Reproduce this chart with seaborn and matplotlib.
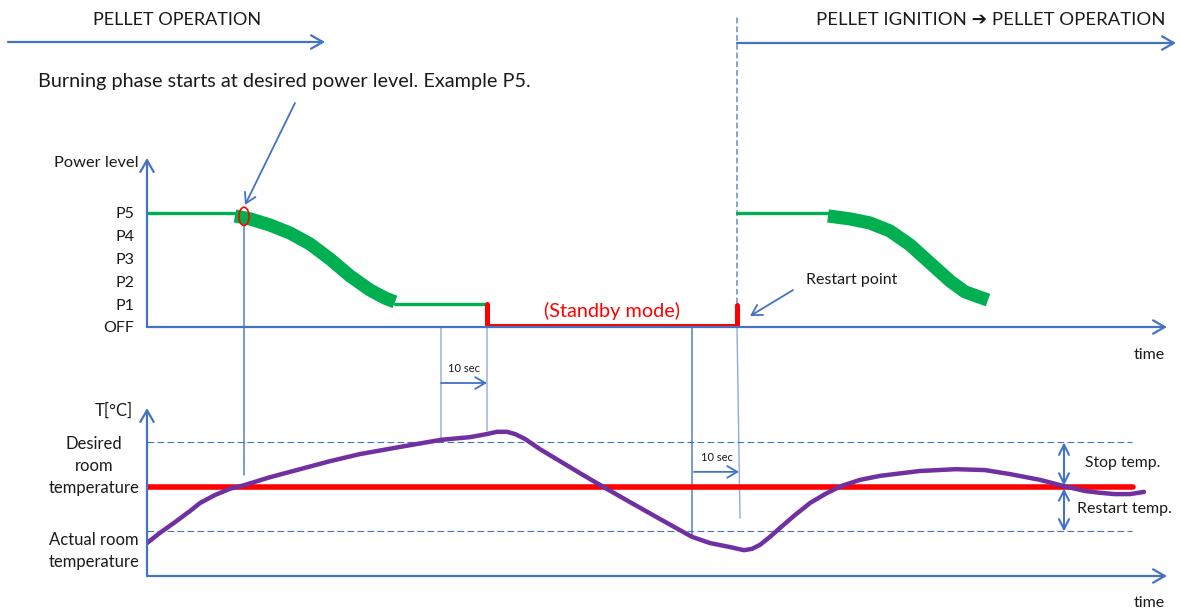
import matplotlib
matplotlib.use("Agg")
import matplotlib.pyplot as plt
from matplotlib.patches import Ellipse
import seaborn as sns

# power levels on the upper axis
level_names = ["OFF", "P1", "P2", "P3", "P4", "P5"]

# first burning cycle (time in arbitrary units, power as level 0..5)
idle1_t = [0.0, 8.8]
idle1_p = [5.0, 5.0]
burn1_t = [8.8, 10.3, 12.3, 14.3, 16.3, 18.3, 20.3, 22.3, 23.8, 24.8]
burn1_p = [4.87, 4.74, 4.47, 4.12, 3.64, 2.98, 2.24, 1.62, 1.27, 1.10]
low1_t = [24.8, 34.0]
low1_p = [1.0, 1.0]

# standby (boiler off)
standby_t = [34.0, 34.0, 59.0, 59.0]
standby_p = [1.0, 0.05, 0.05, 0.96]

# second cycle after restart
idle2_t = [59.0, 68.1]
idle2_p = [5.0, 5.0]
burn2_t = [68.1, 70.3, 72.3, 74.3, 76.3, 78.3, 80.3, 81.8, 84.1]
burn2_p = [4.87, 4.74, 4.56, 4.21, 3.60, 2.81, 2.02, 1.54, 1.18]

# room temperature
temp_t = [0.0, 1.3, 2.8, 4.3, 5.3, 6.8, 8.3, 9.7, 12.3, 15.3, 18.3, 21.3, 25.3,
          29.4, 32.3, 34.0, 35.0, 36.0, 36.8, 37.8, 39.3, 41.3, 43.3, 45.5,
          48.3, 51.3, 54.5, 56.3, 58.3, 59.7, 60.5, 61.3, 62.3, 63.3, 64.8,
          66.3, 67.8, 69.4, 71.3, 73.3, 77.3, 80.9, 83.8, 86.3, 89.3, 91.7,
          93.8, 95.3, 96.8, 98.3, 99.7]
temp_c = [18.74, 18.97, 19.21, 19.46, 19.64, 19.82, 19.96, 20.04, 20.22, 20.40,
          20.58, 20.74, 20.90, 21.06, 21.12, 21.19, 21.24, 21.24, 21.19, 21.08,
          20.85, 20.58, 20.31, 20.02, 19.66, 19.28, 18.88, 18.74, 18.65, 18.58,
          18.61, 18.70, 18.88, 19.08, 19.37, 19.64, 19.84, 20.02, 20.16, 20.25,
          20.36, 20.40, 20.38, 20.29, 20.16, 20.02, 19.91, 19.87, 19.84, 19.84,
          19.89]
desired_temp = 20.0
stop_temp = 21.0
restart_temp = 19.0

# events
ignition_t = 9.7
stop_t = 29.4
off_t = 34.0
restart_t = 54.5
restart_fire_t = 59.0

sns.set_theme(style="white")
plt.rcParams["font.family"] = ["Lato", "DejaVu Sans"]

BLUE = "#4472C4"
LIGHT = "#8FAADC"
GREEN = "#00B050"
RED = "#FF0000"
PURPLE = "#7030A0"
TXT = "#1a1a1a"

fig = plt.figure(figsize=(11.81, 6.10), dpi=100)
ov = fig.add_axes([0, 0, 1, 1])
ov.set_xlim(0, 1181)
ov.set_ylim(610, 0)
ov.axis("off")

ax_p = fig.add_axes([147 / 1181, 1 - 327 / 610, 1020 / 1181, 169 / 610])
ax_t = fig.add_axes([147 / 1181, 1 - 576 / 610, 1020 / 1181, 168 / 610])

axis_arrow = dict(arrowstyle="->,head_length=0.7,head_width=0.4", color=BLUE,
                  lw=1.6, shrinkA=0, shrinkB=0, mutation_scale=12)
thin_arrow = dict(arrowstyle="->,head_length=0.6,head_width=0.35", color=BLUE,
                  lw=1.3, shrinkA=0, shrinkB=0, mutation_scale=12)
link = dict(arrowstyle="-", color=LIGHT, lw=1.0, shrinkA=0, shrinkB=0)

for ax in (ax_p, ax_t):
    ax.set_facecolor("none")
    sns.despine(ax=ax, left=True, bottom=True, right=True, top=True)
    ax.set_xlim(0, 102)
    ax.set_xticks([])
    ax.tick_params(length=0)
    ax.annotate("", xy=(1, 0), xytext=(0, 0), xycoords="axes fraction",
                arrowprops=axis_arrow)
    ax.annotate("", xy=(0, 1), xytext=(0, 0), xycoords="axes fraction",
                arrowprops=axis_arrow)

# ---- power panel
ax_p.set_ylim(0, 7.41)
ax_p.set_yticks(range(6))
ax_p.set_yticklabels(level_names, fontsize=11.5, color=TXT)
ax_p.tick_params(axis="y", pad=9)

for xs, ys in [(idle1_t, idle1_p), (low1_t, low1_p), (idle2_t, idle2_p)]:
    sns.lineplot(x=xs, y=ys, ax=ax_p, color=GREEN, lw=2.4, sort=False, estimator=None)
for xs, ys in [(burn1_t, burn1_p), (burn2_t, burn2_p)]:
    sns.lineplot(x=xs, y=ys, ax=ax_p, color=GREEN, lw=9.5, sort=False, estimator=None,
                 solid_capstyle="butt")
sns.lineplot(x=standby_t, y=standby_p, ax=ax_p, color=RED, lw=3.6, sort=False,
             estimator=None, solid_joinstyle="miter")
ax_p.add_patch(Ellipse((ignition_t, 4.85), 1.0, 0.8, fill=False, edgecolor=RED, lw=1.2,
                       zorder=5))
ax_p.text(46.5, 0.72, "(Standby mode)", color=RED, fontsize=14.3, ha="center", va="center")
ax_p.text(65.9, 2.06, "Restart point", color=TXT, fontsize=11.5, ha="left", va="center")
ax_p.annotate("", xy=(60.3, 0.48), xytext=(64.6, 1.62), arrowprops=thin_arrow)
ax_p.set_xlabel("")
ax_p.set_ylabel("")

# ---- temperature panel
ax_t.set_ylim(18, 21.775)
ax_t.set_yticks([])
for lev in (stop_temp, restart_temp):
    sns.lineplot(x=[0, 98.5], y=[lev, lev], ax=ax_t, color=BLUE, lw=0.8,
                 linestyle=(0, (6, 3)))
sns.lineplot(x=[0, 98.6], y=[desired_temp, desired_temp], ax=ax_t, color=RED, lw=4)
sns.lineplot(x=temp_t, y=temp_c, ax=ax_t, color=PURPLE, lw=3.2, sort=False, estimator=None)

dbl = dict(arrowstyle="<->,head_length=0.6,head_width=0.3", color=BLUE, lw=1.5,
           shrinkA=0, shrinkB=0, mutation_scale=12)
ax_t.annotate("", xy=(91.7, stop_temp), xytext=(91.7, desired_temp + 0.03), arrowprops=dbl)
ax_t.annotate("", xy=(91.7, restart_temp), xytext=(91.7, desired_temp - 0.03), arrowprops=dbl)
ax_t.text(93.8, 20.54, "Stop temp.", fontsize=11.3, color=TXT, va="center")
ax_t.text(93.0, 19.51, "Restart temp.", fontsize=11.5, color=TXT, va="center")

# 10 sec after restart temperature
ax_t.annotate("", xy=(restart_fire_t + 0.2, 20.34), xytext=(restart_t + 0.2, 20.34),
              arrowprops=thin_arrow)
ax_t.text((restart_t + restart_fire_t) / 2 + 0.2, 20.67, "10 sec", fontsize=8,
          ha="center", va="center", color=TXT)
ax_t.set_xlabel("")
ax_t.set_ylabel("")

# 10 sec after stop temperature (between the panels)
mixed = (ax_t.transData, ov.transData)
ax_t.annotate("", xy=(off_t, 383), xycoords=mixed, xytext=(stop_t, 383),
              textcoords=mixed, arrowprops=thin_arrow)
ax_t.annotate("10 sec", xy=((stop_t + off_t) / 2, 368), xycoords=mixed, fontsize=8,
              ha="center", va="center", color=TXT)

# vertical guide lines linking the panels
ov.annotate("", xy=(ignition_t, 20.27), xycoords=ax_t.transData,
            xytext=(ignition_t, 4.9), textcoords=ax_p.transData,
            arrowprops=dict(link, color=BLUE))
ov.annotate("", xy=(stop_t, 21.03), xycoords=ax_t.transData,
            xytext=(stop_t, 0), textcoords=ax_p.transData, arrowprops=link)
ov.annotate("", xy=(off_t, 21.26), xycoords=ax_t.transData,
            xytext=(off_t, 1.0), textcoords=ax_p.transData, arrowprops=link)
ov.annotate("", xy=(restart_t, 18.85), xycoords=ax_t.transData,
            xytext=(restart_t, 0), textcoords=ax_p.transData, arrowprops=dict(link, color=BLUE))
ov.annotate("", xy=(restart_fire_t + 0.3, 19.3), xycoords=ax_t.transData,
            xytext=(restart_fire_t, 0), textcoords=ax_p.transData, arrowprops=link)
ov.annotate("", xy=(restart_fire_t, 0.96), xycoords=ax_p.transData,
            xytext=(restart_fire_t, 18), textcoords=(ax_p.transData, ov.transData),
            arrowprops=dict(arrowstyle="-", color=BLUE, lw=0.9, linestyle=(0, (4, 3)),
                            shrinkA=0, shrinkB=0))

# ---- headers and labels
ov.text(177, 20, "PELLET OPERATION", fontsize=13, ha="center", va="center", color=TXT)
ov.annotate("", xy=(325, 42), xytext=(8, 42), arrowprops=axis_arrow)
ov.text(1165, 20, "PELLET IGNITION \u2794 PELLET OPERATION", fontsize=13.3, ha="right",
        va="center", color=TXT)
ov.annotate("", xy=(1176, 43), xycoords="data", xytext=(restart_fire_t, 43),
            textcoords=(ax_p.transData, ov.transData), arrowprops=axis_arrow)

ov.text(38, 82, "Burning phase starts at desired power level. Example P5.", fontsize=14.3,
        ha="left", va="center", color=TXT)
ov.annotate("", xy=(ignition_t + 0.1, 5.35), xycoords=ax_p.transData, xytext=(295, 103),
            textcoords="data", arrowprops=thin_arrow)

ov.text(139, 163, "Power level", fontsize=11.8, ha="right", va="center", color=TXT)
ov.text(133, 411, "T[\u00b0C]", fontsize=12, ha="right", va="center", color=TXT)
ov.text(94, 466, "Desired\nroom\ntemperature", fontsize=12, ha="center", va="center",
        linespacing=1.45, color=TXT)
ov.text(94, 551, "Actual room\ntemperature", fontsize=12, ha="center", va="center",
        linespacing=1.45, color=TXT)
ov.text(1149, 355, "time", fontsize=11.5, ha="center", va="center", color=TXT)
ov.text(1149, 603, "time", fontsize=11.5, ha="center", va="center", color=TXT)

fig.savefig("out.png", dpi=100)
